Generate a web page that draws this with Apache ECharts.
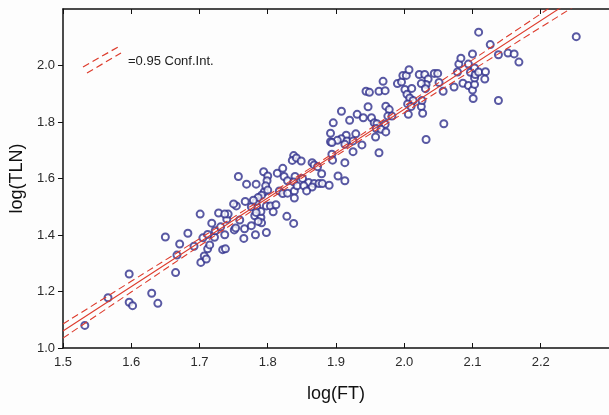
<!DOCTYPE html>
<html><head><meta charset="utf-8">
<script src="https://cdn.jsdelivr.net/npm/echarts@6/dist/echarts.min.js"></script>
<style>html,body{margin:0;padding:0;background:#fdfdfd}#c{width:609px;height:415px}</style>
</head><body><div id="c"></div>
<script>
// Scatter data: log(FT) and log(TLN)
const ftValues = [
1.532,1.566,1.597,1.597,1.602,1.630,1.639,1.650,1.665,1.667,1.671,1.683,1.692,
1.701,1.702,1.705,1.707,1.710,1.712,1.712,1.715,1.718,1.722,1.723,1.728,1.731,1.734,1.738,1.737,1.740,1.742,1.737,1.751,1.753,1.754,1.750,1.759,1.765,1.766,1.767,1.776,1.782,1.781,1.784,1.790,1.791,1.790,1.798,1.798,1.804,1.808,1.812,1.828,1.838,1.776,1.783,1.786,
1.757,1.769,1.783,1.794,1.800,1.799,1.814,1.822,1.824,1.829,1.838,1.836,1.842,1.840,1.838,1.795,1.797,1.800,1.791,1.783,1.817,1.822,1.829,1.839,1.786,1.779,
1.849,1.865,1.868,1.873,1.879,1.903,1.913,1.851,1.860,1.868,1.875,1.880,1.890,1.843,1.853,1.865,1.857,1.839,
1.908,1.947,1.931,1.940,1.920,1.896,1.952,1.956,1.960,1.973,1.978,1.976,1.982,1.972,1.959,1.966,1.973,1.892,1.915,1.929,1.908,1.902,1.892,1.894,1.916,1.925,1.958,1.913,1.938,1.925,1.963,1.894,1.895,1.913,
1.944,1.949,1.963,1.969,1.972,1.990,1.996,1.998,2.003,2.007,2.001,2.004,2.011,2.008,2.013,2.005,2.010,2.025,2.026,2.027,2.006,2.022,2.030,2.035,2.044,2.049,2.051,2.057,2.032,2.025,2.031,2.058,2.032,
2.073,2.078,2.080,2.083,2.086,2.094,2.094,2.097,2.100,2.100,2.101,2.103,2.103,2.104,2.103,2.109,2.109,2.119,2.118,2.126,2.138,2.152,2.161,2.168,2.138,2.252
];
const tlnValues = [
1.080,1.178,1.262,1.162,1.150,1.194,1.158,1.393,1.267,1.329,1.368,1.406,1.360,
1.474,1.303,1.390,1.326,1.315,1.402,1.351,1.365,1.442,1.392,1.415,1.478,1.429,1.348,1.351,1.401,1.456,1.474,1.474,1.418,1.425,1.503,1.510,1.453,1.388,1.422,1.519,1.433,1.401,1.468,1.501,1.462,1.443,1.483,1.409,1.503,1.503,1.482,1.507,1.466,1.441,1.500,1.480,1.448,
1.607,1.580,1.580,1.624,1.609,1.592,1.619,1.636,1.607,1.592,1.681,1.664,1.673,1.607,1.588,1.553,1.574,1.559,1.541,1.519,1.556,1.547,1.548,1.556,1.533,1.523,
1.662,1.656,1.648,1.642,1.617,1.609,1.592,1.600,1.586,1.582,1.582,1.582,1.576,1.574,1.574,1.570,1.556,1.531,
1.838,1.854,1.827,1.815,1.806,1.797,1.815,1.797,1.794,1.856,1.844,1.821,1.821,1.792,1.777,1.774,1.765,1.760,1.753,1.758,1.741,1.735,1.730,1.727,1.733,1.733,1.747,1.721,1.719,1.695,1.691,1.686,1.665,1.656,
1.909,1.905,1.909,1.944,1.911,1.936,1.942,1.965,1.965,1.985,1.915,1.898,1.919,1.885,1.876,1.864,1.855,1.855,1.876,1.831,1.827,1.968,1.968,1.952,1.972,1.972,1.940,1.909,1.933,1.936,1.918,1.794,1.738,
1.924,1.977,2.005,2.026,1.937,1.929,2.005,1.976,2.041,1.913,1.883,1.933,1.956,1.968,1.991,1.977,2.118,1.978,1.952,2.074,2.038,2.044,2.041,2.012,1.876,2.102
];
// Regression line and 95% confidence band
const fitX = [1.5, 2.3];
const fitY = [1.06, 2.316];
const ciX = [1.5, 1.6, 1.7, 1.8, 1.9, 2.0, 2.1, 2.2, 2.3];
const ciUpper = [1.085, 1.236, 1.387, 1.540, 1.696, 1.857, 2.020, 2.183, 2.346];
const ciLower = [1.035, 1.198, 1.361, 1.522, 1.680, 1.833, 1.984, 2.135, 2.286];
// Axis ranges / ticks
const xRange = [1.5, 2.3], xStep = 0.1;
const yRange = [1.0, 2.2], yStep = 0.2;
const legendText = '=0.95 Conf.Int.';

const pts = ftValues.map((x, i) => [x, tlnValues[i]]);
const zip = (a, b) => a.map((x, i) => [x, b[i]]);
const FONT = 'Liberation Sans, Arial, sans-serif';
const RED = '#dd3b2c';
const chart = echarts.init(document.getElementById('c'), null, {renderer: 'canvas'});
const axisLine = {show: true, lineStyle: {color: '#111', width: 1.5}};
chart.setOption({
  backgroundColor: '#fdfdfd',
  animation: false,
  grid: {left: 62, top: 9, right: -7, bottom: 67, show: false},
  xAxis: [{
    type: 'value', min: xRange[0], max: xRange[1], interval: xStep, position: 'bottom',
    axisLine: axisLine, axisTick: {inside: true, length: 5, lineStyle: {color: '#111'}},
    splitLine: {show: false},
    axisLabel: {margin: 8, color: '#2a2a2a', fontSize: 13, fontFamily: FONT, showMaxLabel: false,
      formatter: v => v.toFixed(1)},
    name: 'log(FT)', nameLocation: 'middle', nameGap: 37,
    nameTextStyle: {fontSize: 18, color: '#111', fontFamily: FONT}
  }, {
    type: 'value', min: xRange[0], max: xRange[1], interval: xStep, position: 'top',
    axisLine: axisLine, axisTick: {inside: true, length: 5, lineStyle: {color: '#111'}},
    splitLine: {show: false}, axisLabel: {show: false}
  }],
  yAxis: [{
    type: 'value', min: yRange[0], max: yRange[1], interval: yStep,
    axisLine: axisLine, axisTick: {inside: false, length: 5, lineStyle: {color: '#111'}},
    splitLine: {show: false},
    axisLabel: {margin: 8, color: '#2a2a2a', fontSize: 13, fontFamily: FONT, showMaxLabel: false,
      formatter: v => v.toFixed(1)},
    name: 'log(TLN)', nameLocation: 'middle', nameGap: 36, nameRotate: 90,
    nameTextStyle: {fontSize: 18, color: '#111', fontFamily: FONT}
  }],
  series: [{
    type: 'scatter', data: pts, symbol: 'emptyCircle', symbolSize: 7,
    itemStyle: {color: '#2f2f8c', borderWidth: 1.3}, z: 2
  }, {
    type: 'line', data: zip(fitX, fitY), showSymbol: false, symbol: 'none',
    lineStyle: {color: RED, width: 1.1}, z: 3
  }, {
    type: 'line', data: zip(ciX, ciUpper), showSymbol: false, symbol: 'none', smooth: true,
    lineStyle: {color: RED, width: 1.1, type: [7, 4]}, z: 3
  }, {
    type: 'line', data: zip(ciX, ciLower), showSymbol: false, symbol: 'none', smooth: true,
    lineStyle: {color: RED, width: 1.1, type: [7, 4]}, z: 3
  }],
  graphic: [
    {type: 'line', shape: {x1: 83, y1: 67, x2: 118, y2: 47}, style: {stroke: RED, lineWidth: 1.2, lineDash: [7, 4]}},
    {type: 'line', shape: {x1: 87, y1: 73, x2: 121, y2: 53}, style: {stroke: RED, lineWidth: 1.2, lineDash: [7, 4]}},
    {type: 'text', left: 128, top: 55, style: {text: legendText, font: '13px ' + FONT, fill: '#222'}}
  ]
});
</script></body></html>
